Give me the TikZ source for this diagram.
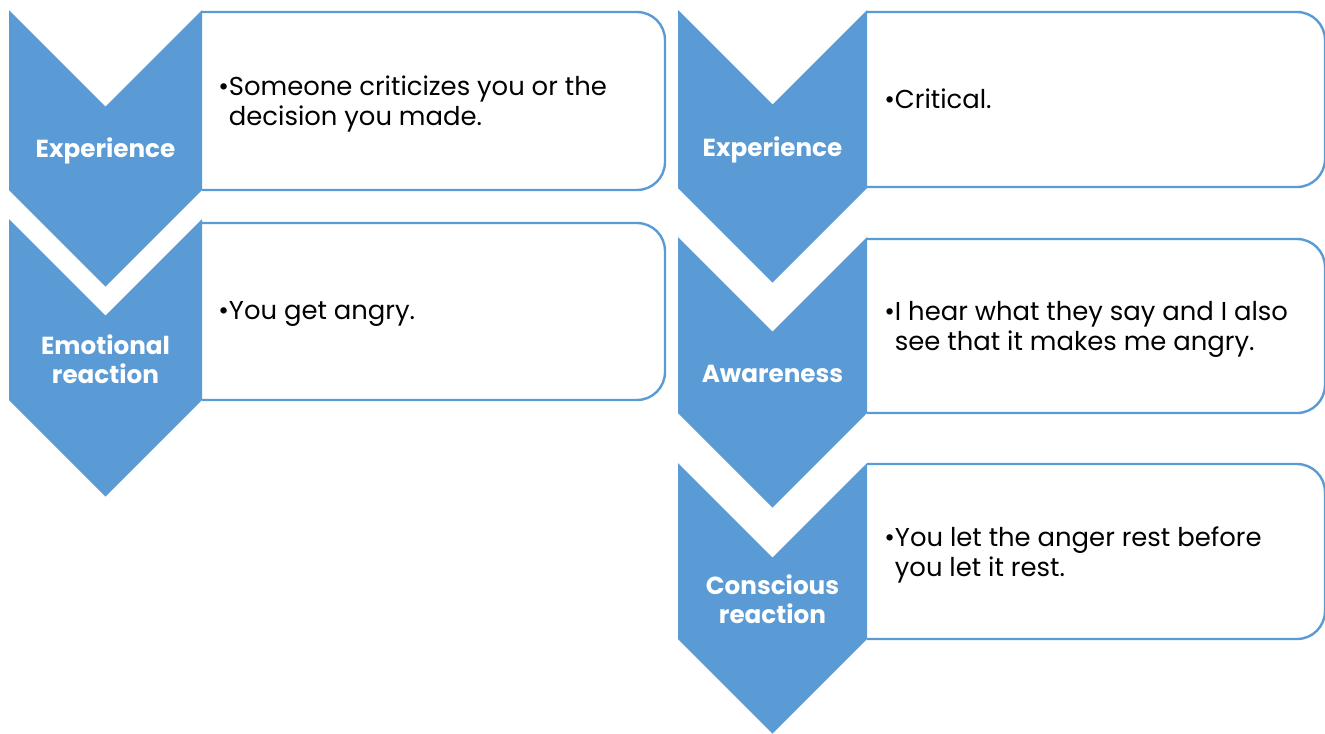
\documentclass[tikz,border=0pt]{standalone}
\usepackage{fontspec}
\setmainfont{Poppins}
\usetikzlibrary{calc}
\definecolor{chevblue}{HTML}{5B9BD5}
\def\chevron(#1,#2)(#3:#4){\fill[chevblue] (#1,#2) -- ++({#3/2},{#3/2}) -- ++({#3/2},{-#3/2}) -- ++(0,#4) -- ++({-#3/2},{#3/2}) -- ++({-#3/2},{-#3/2}) -- cycle;}
\def\textbox(#1,#2)(#3,#4){\draw[line width=1.8pt, color=chevblue, fill=white, rounded corners=21pt] (#1,#2) -- (#3,#2) -- (#3,#4) -- (#1,#4);}

\begin{document}
\begin{tikzpicture}[x=0.75pt, y=-0.75pt,
		label/.style={color=white, font=\fontsize{18.5}{21.75}\selectfont\bfseries, align=center, inner sep=0pt, anchor=base},
		bullet/.style={color=black, font=\fontsize{19.4}{22.5}\selectfont, align=left, inner sep=0pt, anchor=base west}]
		%%%%% START %%%%%
		
		\useasboundingbox (0, 0) rectangle (1325, 733);
		
		% left column
		\textbox(202, 12)(665, 190)
		\textbox(202, 223)(665, 400)
		
		\chevron(9, 10)(193:180)
		\chevron(9, 219)(193:181)
		
		% base of a two-line node sits on its last line
		\node[label] (expL) at (105.5, 157) {Experience};
		\node[label] (emoL) at (105.5, 383) {Emotional\\reaction};
		
		\node[bullet] (txtA) at (218, 125) {\textbullet Someone criticizes you or the\\\hphantom{\textbullet}decision you made.};
		\node[bullet] (txtB) at (218, 319) {\textbullet You get angry.};
		
		% right column
		\textbox(867, 12)(1325, 187)
		\textbox(867, 239)(1325, 413)
		\textbox(867, 464)(1325, 639)
		
		\chevron(678, 10)(189:178)
		\chevron(678, 237)(189:176)
		\chevron(678, 463)(189:176)
		
		\node[label] (expR) at (772.5, 156) {Experience};
		\node[label] (awaR) at (772.5, 382) {Awareness};
		\node[label] (conR) at (772.5, 623) {Conscious\\reaction};
		
		\node[bullet] (txtC) at (884, 108) {\textbullet Critical.};
		\node[bullet] (txtD) at (884, 350) {\textbullet I hear what they say and I also\\\hphantom{\textbullet}see that it makes me angry.};
		\node[bullet] (txtE) at (884, 576) {\textbullet You let the anger rest before\\\hphantom{\textbullet}you let it rest.};
		
		%%%%% END %%%%%
	\end{tikzpicture}
\end{document}
